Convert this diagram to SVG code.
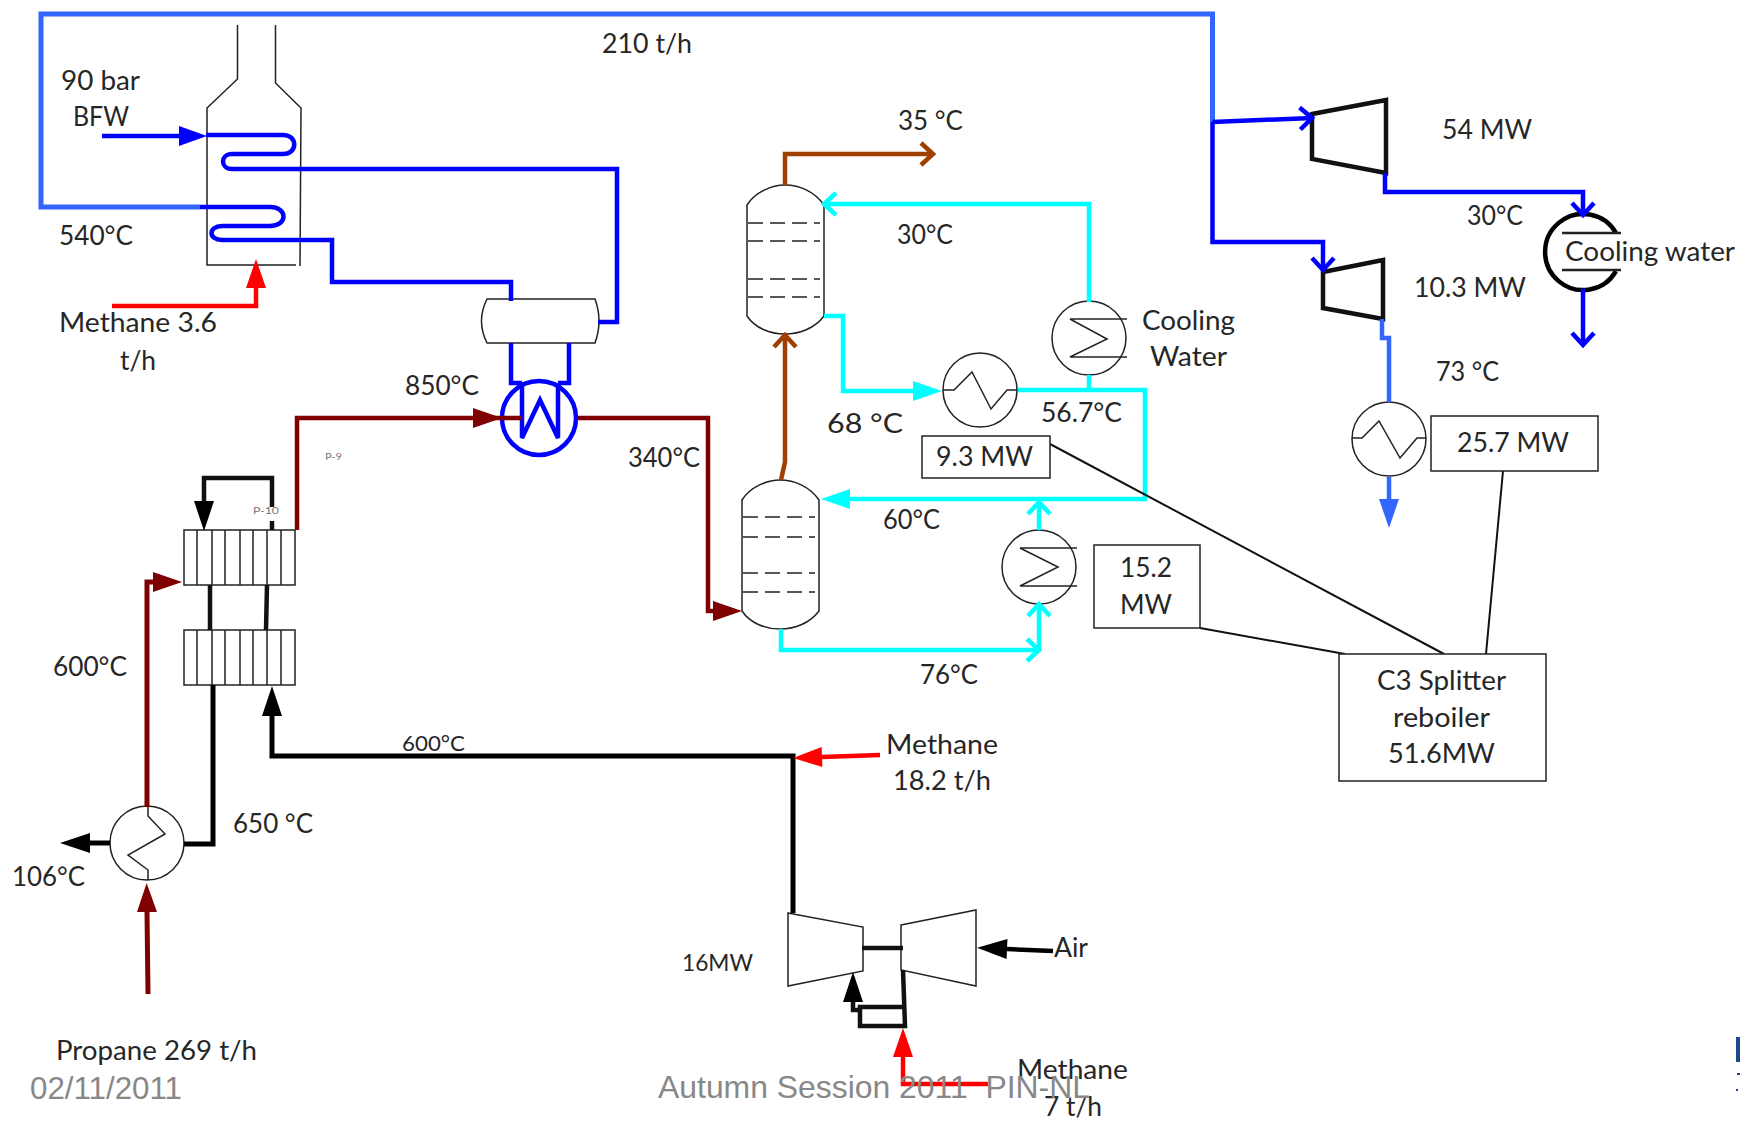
<svg xmlns="http://www.w3.org/2000/svg" width="1740" height="1121" viewBox="0 0 1740 1121">
<style>
text{font-family:"Lato","Liberation Sans",sans-serif;font-size:26px;fill:#262626}
.foot{font-family:"Liberation Sans",Arial,sans-serif;font-size:32px;fill:#888888}
.tiny{font-size:10px;fill:#777777}
.thin{fill:none;stroke:#222222;stroke-width:1.5}
.box{fill:#ffffff;stroke:#222222;stroke-width:1.5}
.tray{fill:none;stroke:#222222;stroke-width:1.5;stroke-dasharray:15 7}
.thick{fill:none;stroke:#111111;stroke-width:4.5;stroke-linejoin:miter}
.p{fill:none;stroke-width:4.5;stroke-linejoin:miter}
.blue{stroke:#0000ff}.lblue{stroke:#3366ff}.cyan{stroke:#00ffff}.maroon{stroke:#7f0000}.red{stroke:#ff0000}.black{stroke:#000000}.brown{stroke:#a04000}
.link{fill:none;stroke:#111111;stroke-width:2}
</style>
<defs>
<marker id="s-blue" markerUnits="userSpaceOnUse" markerWidth="40" markerHeight="30" refX="0" refY="15" orient="auto" overflow="visible"><path d="M0,5L28,15L0,25Z" fill="#0000ff"/></marker>
<marker id="s-lblue" markerUnits="userSpaceOnUse" markerWidth="40" markerHeight="30" refX="0" refY="15" orient="auto" overflow="visible"><path d="M0,5L29,15L0,25Z" fill="#3366ff"/></marker>
<marker id="s-cyan" markerUnits="userSpaceOnUse" markerWidth="40" markerHeight="30" refX="0" refY="15" orient="auto" overflow="visible"><path d="M0,5L29,15L0,25Z" fill="#00ffff"/></marker>
<marker id="s-maroon" markerUnits="userSpaceOnUse" markerWidth="40" markerHeight="30" refX="0" refY="15" orient="auto" overflow="visible"><path d="M0,5L29,15L0,25Z" fill="#7f0000"/></marker>
<marker id="s-red" markerUnits="userSpaceOnUse" markerWidth="40" markerHeight="30" refX="0" refY="15" orient="auto" overflow="visible"><path d="M0,5L29,15L0,25Z" fill="#ff0000"/></marker>
<marker id="s-black" markerUnits="userSpaceOnUse" markerWidth="40" markerHeight="30" refX="0" refY="15" orient="auto" overflow="visible"><path d="M0,5L30,15L0,25Z" fill="#000000"/></marker>
<marker id="c-blue" markerUnits="userSpaceOnUse" markerWidth="30" markerHeight="30" refX="20" refY="15" orient="auto" overflow="visible"><path d="M8,4L20,15L8,26" fill="none" stroke="#0000ff" stroke-width="4.5"/></marker>
<marker id="c-cyan" markerUnits="userSpaceOnUse" markerWidth="30" markerHeight="30" refX="20" refY="15" orient="auto" overflow="visible"><path d="M8,4L20,15L8,26" fill="none" stroke="#00ffff" stroke-width="4.5"/></marker>
<marker id="c-brown" markerUnits="userSpaceOnUse" markerWidth="30" markerHeight="30" refX="20" refY="15" orient="auto" overflow="visible"><path d="M8,4L20,15L8,26" fill="none" stroke="#a04000" stroke-width="4.5"/></marker>
</defs>
<rect width="1740" height="1121" fill="#ffffff"/>

<g id="furnace">
<path class="thin" d="M237.500,25L237.500,79L207,108L207,265L296,265M275.500,25L275.500,83L301,108L300,266"/>
</g>
<g id="steam-drum"><path class="thin" d="M487,299L595,299Q603,321 595,343L487,343Q476,321 487,299Z"/></g>
<g id="boiler-exchanger">
<ellipse cx="539" cy="418" rx="37" ry="37" fill="none" stroke="#0000ff" stroke-width="4.5"/>
<path fill="none" stroke="#0000ff" stroke-width="4.5" d="M522,383L522,438L540,400L558,438L558,383"/>
</g>
<g id="column-top">
<path class="thin" d="M747,205C755,192 772,185 785,185C800,185 815,192 824,205L824,316C815,328 800,334 785,334C770,334 755,328 747,316Z"/>
<path class="tray" d="M748,223H820M748,241H820M748,279H820M748,297H820"/>
</g>
<g id="column-bottom">
<path class="thin" d="M742,500C750,487 767,480 780,480C795,480 810,487 819,500L819,611C810,623 795,629 780,629C765,629 750,623 742,611Z"/>
<path class="tray" d="M743,517H815M743,537H815M743,573H815M743,592H815"/>
</g>
<g id="hx-9-3">
<circle class="thin" cx="980" cy="390" r="37"/>
<path class="thin" d="M943,390L954,390L972,372L991,409L1007,390L1017,390"/>
</g>
<g id="hx-cooling">
<circle class="thin" cx="1089" cy="338" r="37"/>
<path class="thin" d="M1127,319L1070,319L1107,339L1070,357L1127,357"/>
</g>
<g id="hx-15-2">
<circle class="thin" cx="1039" cy="567" r="37"/>
<path class="thin" d="M1077,548L1020,548L1058,567L1020,586L1077,586"/>
</g>
<g id="hx-25-7">
<circle class="thin" cx="1389" cy="439" r="37"/>
<path class="thin" d="M1352,438L1362,438L1379,421L1400,458L1417,438L1426,438"/>
</g>
<g id="turbine-54"><path class="thick" d="M1312,114L1386,100L1386,173L1312,159Z"/></g>
<g id="turbine-10-3"><path class="thick" d="M1323,272L1383,260L1383,319L1323,308Z"/></g>
<g id="condenser">
<path fill="none" stroke="#000000" stroke-width="4.5" d="M1616,233A38,38 0 1 0 1616,271"/>
<path fill="none" stroke="#222222" stroke-width="2.5" d="M1562,233L1621,233M1562,270L1621,270"/>
</g>
<g id="recuperator-top">
<rect class="thin" x="184" y="530" width="111" height="55"/>
<path class="thin" d="M197,530V585M212,530V585M225,530V585M240,530V585M253,530V585M267,530V585M281,530V585"/>
</g>
<g id="recuperator-bottom">
<rect class="thin" x="184" y="630" width="111" height="55"/>
<path class="thin" d="M197,630V685M212,630V685M225,630V685M240,630V685M253,630V685M267,630V685M281,630V685"/>
</g>
<g id="hx-propane">
<ellipse class="thin" cx="147" cy="843" rx="37" ry="37"/>
<path class="thin" d="M148,807L148,816L165,834L128,855L148,870L148,880"/>
</g>
<g id="gas-turbine">
<path class="thin" d="M788,913L863,927L863,971L788,986Z"/>
<path class="thin" d="M901,925L976,910L976,986L901,970Z"/>
</g>

<g id="connectors">
<path class="p lblue" style="stroke-width:5" d="M200,207L41,207L41,14L1212.500,14L1212.500,122"/>
<path class="p blue" d="M102,136L179,136" marker-end="url(#s-blue)"/>
<path class="p blue" d="M206,135L283,135C298,135 298,154 283,154L232,154C220,154 220,169 232,169L617,169L617,322L598,322"/>
<path class="p blue" d="M200,207L270,207C288,207 288,226 270,226L222,226C208,226 208,240 222,240L332,240L332,282L511,282L511,301"/>
<path class="p blue" d="M511,343L511,383L522,383M569,343L569,383L558,383"/>
<path class="p red" d="M112,306L256,306L256,288" marker-end="url(#s-red)"/>
<path class="p maroon" d="M297,530L297,418L473,418" marker-end="url(#s-maroon)"/>
<path class="p maroon" d="M473,418L522,418"/>
<path class="p maroon" d="M578,418L708,418L708,611L713,611" marker-end="url(#s-maroon)"/>
<path class="p brown" d="M785,185L785,154L933,154" marker-end="url(#c-brown)"/>
<path class="p brown" d="M781,480L785,462L785,335" marker-end="url(#c-brown)"/>
<path class="p cyan" d="M1089,302L1089,204L824,204" marker-end="url(#c-cyan)"/>
<path class="p cyan" d="M824,316L843,316L843,391L913,391" marker-end="url(#s-cyan)"/>
<path class="p cyan" d="M1018,390L1145,390L1145,499L850,499" marker-end="url(#s-cyan)"/>
<path class="p cyan" d="M1089,390L1089,375"/>
<path class="p cyan" d="M1039,530L1039,502" marker-end="url(#c-cyan)"/>
<path class="p cyan" d="M781,629L781,650L1039,650" marker-end="url(#c-cyan)"/>
<path class="p cyan" d="M1039,650L1039,604" marker-end="url(#c-cyan)"/>
<path class="p blue" d="M1212.500,122L1312,118" marker-end="url(#c-blue)"/>
<path class="p blue" d="M1212.500,122L1212.500,242L1323,242L1323,270" marker-end="url(#c-blue)"/>
<path class="p blue" d="M1385,173L1385,192L1583,192L1583,215" marker-end="url(#c-blue)"/>
<path class="p blue" d="M1583,289L1583,345" marker-end="url(#c-blue)"/>
<path class="p lblue" d="M1382,319L1382,338L1389,338L1389,402"/>
<path class="p lblue" d="M1389,477L1389,499" marker-end="url(#s-lblue)"/>
<path class="thick" d="M272,530L272,521M272,507L272,478L204,478L204,501" marker-end="url(#s-black)"/>
<path class="thick" d="M210,585L210,630M267,585L266,630"/>
<path class="p black" style="stroke-width:5" d="M213,685L213,844L184,844"/>
<path class="p maroon" style="stroke-width:5" d="M147,807L147,582L153,582" marker-end="url(#s-maroon)"/>
<path class="p black" style="stroke-width:5" d="M110,843L90,843" marker-end="url(#s-black)"/>
<path class="p maroon" style="stroke-width:5" d="M148,994L147,912" marker-end="url(#s-maroon)"/>
<path class="p black" style="stroke-width:5" d="M793,913L793,756L272,756L272,716" marker-end="url(#s-black)"/>
<path class="p red" d="M880,755L822,757" marker-end="url(#s-red)"/>
<path class="thick" d="M862,948L903,948"/>
<path class="p black" d="M1053,951L1007,949" marker-end="url(#s-black)"/>
<path class="thick" d="M903,970L905,1026L860,1026L860,1007L905,1007"/>
<path class="thick" d="M860,1010L853,1010L853,1002" marker-end="url(#s-black)"/>
<path class="p red" d="M988,1084L903,1084L903,1057" marker-end="url(#s-red)"/>
<path class="link" d="M1050,444L1444,654M1200,628L1345,654M1503,471L1486,654"/>
</g>

<g id="box-9-3"><rect class="box" x="922" y="436" width="128" height="42"/><text x="936" y="466" textLength="97" lengthAdjust="spacingAndGlyphs">9.3 MW</text></g>
<g id="box-15-2"><rect class="box" x="1094" y="545" width="106" height="83"/><text x="1120" y="577" textLength="52" lengthAdjust="spacingAndGlyphs">15.2</text><text x="1120" y="614" textLength="52" lengthAdjust="spacingAndGlyphs">MW</text></g>
<g id="box-25-7"><rect class="box" x="1431" y="416" width="167" height="55"/><text x="1457" y="452" textLength="112" lengthAdjust="spacingAndGlyphs">25.7 MW</text></g>
<g id="box-c3"><rect class="box" x="1339" y="654" width="207" height="127"/>
<text x="1377" y="690" textLength="129" lengthAdjust="spacingAndGlyphs">C3 Splitter</text>
<text x="1393" y="727" textLength="97" lengthAdjust="spacingAndGlyphs">reboiler</text>
<text x="1388" y="763" textLength="107" lengthAdjust="spacingAndGlyphs">51.6MW</text></g>

<g id="labels">
<text x="602" y="53" textLength="90" lengthAdjust="spacingAndGlyphs">210 t/h</text>
<text x="61" y="90" textLength="79" lengthAdjust="spacingAndGlyphs">90 bar</text>
<text x="73" y="126" textLength="56" lengthAdjust="spacingAndGlyphs">BFW</text>
<text x="59" y="245" textLength="74" lengthAdjust="spacingAndGlyphs">540°C</text>
<text x="59" y="332" textLength="158" lengthAdjust="spacingAndGlyphs">Methane 3.6</text>
<text x="120" y="370" textLength="36" lengthAdjust="spacingAndGlyphs">t/h</text>
<text x="405" y="395" textLength="74" lengthAdjust="spacingAndGlyphs">850°C</text>
<text x="628" y="467" textLength="72" lengthAdjust="spacingAndGlyphs">340°C</text>
<text x="898" y="130" textLength="65" lengthAdjust="spacingAndGlyphs">35 °C</text>
<text x="897" y="244" textLength="56" lengthAdjust="spacingAndGlyphs">30°C</text>
<text x="827" y="433" textLength="76" lengthAdjust="spacingAndGlyphs">68 °C</text>
<text x="1041" y="422" textLength="81" lengthAdjust="spacingAndGlyphs">56.7°C</text>
<text x="883" y="529" textLength="57" lengthAdjust="spacingAndGlyphs">60°C</text>
<text x="920" y="684" textLength="58" lengthAdjust="spacingAndGlyphs">76°C</text>
<text x="1142" y="330" textLength="93" lengthAdjust="spacingAndGlyphs">Cooling</text>
<text x="1150" y="366" textLength="77" lengthAdjust="spacingAndGlyphs">Water</text>
<text x="1442" y="139" textLength="90" lengthAdjust="spacingAndGlyphs">54 MW</text>
<text x="1467" y="225" textLength="56" lengthAdjust="spacingAndGlyphs">30°C</text>
<text x="1414" y="297" textLength="112" lengthAdjust="spacingAndGlyphs">10.3 MW</text>
<text x="1436" y="381" textLength="63" lengthAdjust="spacingAndGlyphs">73 °C</text>
<text x="1565" y="261" textLength="170" lengthAdjust="spacingAndGlyphs">Cooling water</text>
<text x="886" y="754" textLength="112" lengthAdjust="spacingAndGlyphs">Methane</text>
<text x="893" y="790" textLength="98" lengthAdjust="spacingAndGlyphs">18.2 t/h</text>
<text x="53" y="676" textLength="74" lengthAdjust="spacingAndGlyphs">600°C</text>
<text x="233" y="833" textLength="80" lengthAdjust="spacingAndGlyphs">650 °C</text>
<text x="12" y="886" textLength="73" lengthAdjust="spacingAndGlyphs">106°C</text>
<text x="56" y="1060" textLength="201" lengthAdjust="spacingAndGlyphs">Propane 269 t/h</text>
<text x="402" y="751" textLength="63" lengthAdjust="spacingAndGlyphs" style="font-size:22px">600°C</text>
<text x="682" y="971" textLength="71" lengthAdjust="spacingAndGlyphs" style="font-size:23px">16MW</text>
<text x="1054" y="957" textLength="34" lengthAdjust="spacingAndGlyphs">Air</text>
<text x="1017" y="1079" textLength="111" lengthAdjust="spacingAndGlyphs">Methane</text>
<text x="1044" y="1116" textLength="58" lengthAdjust="spacingAndGlyphs">7 t/h</text>
<text class="tiny" x="325" y="460" textLength="17" lengthAdjust="spacingAndGlyphs">P-9</text>
<text class="tiny" x="253" y="514" textLength="26" lengthAdjust="spacingAndGlyphs">P-10</text>
</g>
<g id="footer">
<text class="foot" x="30" y="1099" textLength="152" lengthAdjust="spacingAndGlyphs">02/11/2011</text>
<text class="foot" x="658" y="1098" xml:space="preserve" textLength="432" lengthAdjust="spacingAndGlyphs">Autumn Session 2011  PIN-NL</text>
<rect x="1736" y="1037" width="4" height="25" fill="#1a4a8a"/>
<rect x="1737" y="1073" width="3" height="2" fill="#1a4a8a"/>
<rect x="1736" y="1089" width="2" height="2" fill="#1a4a8a"/>
</g>
</svg>
